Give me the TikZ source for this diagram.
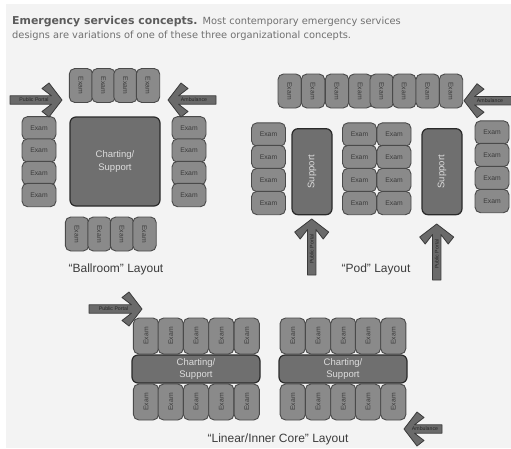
\documentclass[tikz,border=0pt]{standalone}
\usepackage{fontspec}
\setmainfont{Liberation Sans}
\newfontfamily\headfont{DejaVu Sans}
\definecolor{paper}{HTML}{F3F3F3}
\definecolor{examfill}{HTML}{8A8A8A}
\definecolor{examline}{HTML}{4A4A4A}
\definecolor{corefill}{HTML}{6F6F6F}
\definecolor{coreline}{HTML}{2A2A2A}
\definecolor{inkgrey}{HTML}{3C3C3C}
\definecolor{headgrey}{HTML}{5C5C5C}
\definecolor{bodygrey}{HTML}{707070}
\definecolor{paletext}{HTML}{DDDDDD}
\definecolor{arrowfill}{HTML}{6A6A6A}
\definecolor{arrowline}{HTML}{3A3A3A}
\tikzset{
  examcard/.style={draw=examline,fill=examfill,line width=0.9pt,rounded corners=5.5pt,inner sep=0pt,
    text=inkgrey,font=\fontsize{6.8}{8}\selectfont},
  examwide/.style={examcard,minimum width=34pt,minimum height=23.4pt},
  examtall/.style={examcard,minimum width=34pt,minimum height=23.4pt,rotate=-90},
  examlinear/.style={examcard,minimum width=36pt,minimum height=25.2pt,rotate=90},
  corebox/.style={draw=coreline,fill=corefill,line width=1.2pt,rounded corners=6pt,inner sep=0pt,
    text=paletext,align=center,font=\fontsize{9.5}{12.5}\selectfont},
  layouttitle/.style={text=inkgrey,inner sep=0pt,font=\fontsize{12}{14}\selectfont},
  arrowbody/.style={draw=arrowline,fill=arrowfill,line width=0.8pt,line join=round},
  arrowtext/.style={text=black!85,inner sep=0pt,font=\fontsize{5.2}{6}\selectfont},
  headline/.style={anchor=base west,inner sep=0pt,text=bodygrey,font=\headfont\fontsize{9.85}{11}\selectfont}
}
% name, tip x, tip y, page rotation, shaft length, label, label rotation
\newcommand{\entryarrow}[7]{%
  \begin{scope}[shift={(#2,#3)},rotate=#4]
    \draw[arrowbody] (0,0) -- (-13,-17) -- (-20,-11.5) -- (-10.5,-4.2) -- (-#5,-4.2) -- (-#5,4.2)
      -- (-10.5,4.2) -- (-20,11.5) -- (-13,17) -- cycle;
    \node[arrowtext,rotate=#7] (#1) at ({-#5/2-2},0) {#6};
  \end{scope}}
\begin{document}
\begin{tikzpicture}[x=1pt,y=-1pt]
\useasboundingbox (0,0) rectangle (511,448);
\fill[paper] (6,4) rectangle (511,448);
\node[headline] (head1) at (12,24)
  {\textcolor{headgrey}{\bfseries\fontsize{10.9}{11}\selectfont Emergency services concepts.}\hspace{1pt} Most contemporary emergency services};
\node[headline] (head2) at (12,38.5)
  {designs are variations of one of these three organizational concepts.};

% Ballroom
\foreach \n/\x in {1/81,2/103.5,3/125.5,4/148} \node[examtall] (bt\n) at (\x,85.5) {Exam};
\foreach \n/\x in {1/77,2/99.5,3/122,4/144.5} \node[examtall] (bb\n) at (\x,234) {Exam};
\foreach \n/\y in {1/128.3,2/150.5,3/173,4/195} {
  \node[examwide] (bl\n) at (39,\y) {Exam};
  \node[examwide] (br\n) at (189,\y) {Exam};
}
\node[corebox,minimum width=90pt,minimum height=89pt] (bcore) at (115,161.5) {Charting/\\Support};
\entryarrow{bpub}{62}{100}{0}{52}{Public Portal}{0}
\entryarrow{bamb}{168}{100}{180}{48}{Ambulance}{0}
\node[layouttitle] (blabel) at (116,269) {“Ballroom” Layout};

% Pod
\foreach \n/\x in {1/289.7,2/313,3/337,4/360.3,5/381.7,6/404.3,7/427.7,8/451} \node[examtall] (pt\n) at (\x,91) {Exam};
\foreach \n/\y in {1/134.5,2/157,3/180,4/203} {
  \node[examwide] (pl\n) at (268.5,\y) {Exam};
  \node[examwide] (pm\n) at (359.5,\y) {Exam};
  \node[examwide] (pn\n) at (394,\y) {Exam};
}
\foreach \n/\y in {1/132.5,2/155,3/178,4/201} \node[examwide] (pr\n) at (492,\y) {Exam};
\node[corebox,minimum width=86pt,minimum height=40pt,rotate=90] (ps1) at (312,171.7) {Support};
\node[corebox,minimum width=86pt,minimum height=40pt,rotate=90] (ps2) at (442,171.7) {Support};
\entryarrow{pamb}{464}{100.7}{180}{48}{Ambulance}{0}
\entryarrow{ppub1}{311.7}{219}{90}{56}{Public Portal}{90}
\entryarrow{ppub2}{436.7}{224}{90}{56}{Public Portal}{90}
\node[layouttitle] (plabel) at (376,269) {“Pod” Layout};

% Linear / inner core
\foreach \n/\x in {1/146,2/170.7,3/196,4/221.3,5/246.7} {
  \node[examlinear] (lt\n) at (\x,336) {Exam};
  \node[examlinear] (lb\n) at (\x,402) {Exam};
}
\foreach \n/\x in {1/292.7,2/318,3/343.3,4/368,5/393.3} {
  \node[examlinear] (rt\n) at (\x,336) {Exam};
  \node[examlinear] (rb\n) at (\x,402) {Exam};
}
\node[corebox,minimum width=128pt,minimum height=28pt] (lcore) at (196,369) {Charting/\\Support};
\node[corebox,minimum width=128pt,minimum height=28pt] (rcore) at (343,369) {Charting/\\Support};
\entryarrow{lpub}{142}{309}{0}{53}{Public Portal}{0}
\entryarrow{lamb}{404}{429}{180}{38}{Ambulance}{0}
\node[layouttitle] (llabel) at (278,439) {“Linear/Inner Core” Layout};
\end{tikzpicture}
\end{document}
